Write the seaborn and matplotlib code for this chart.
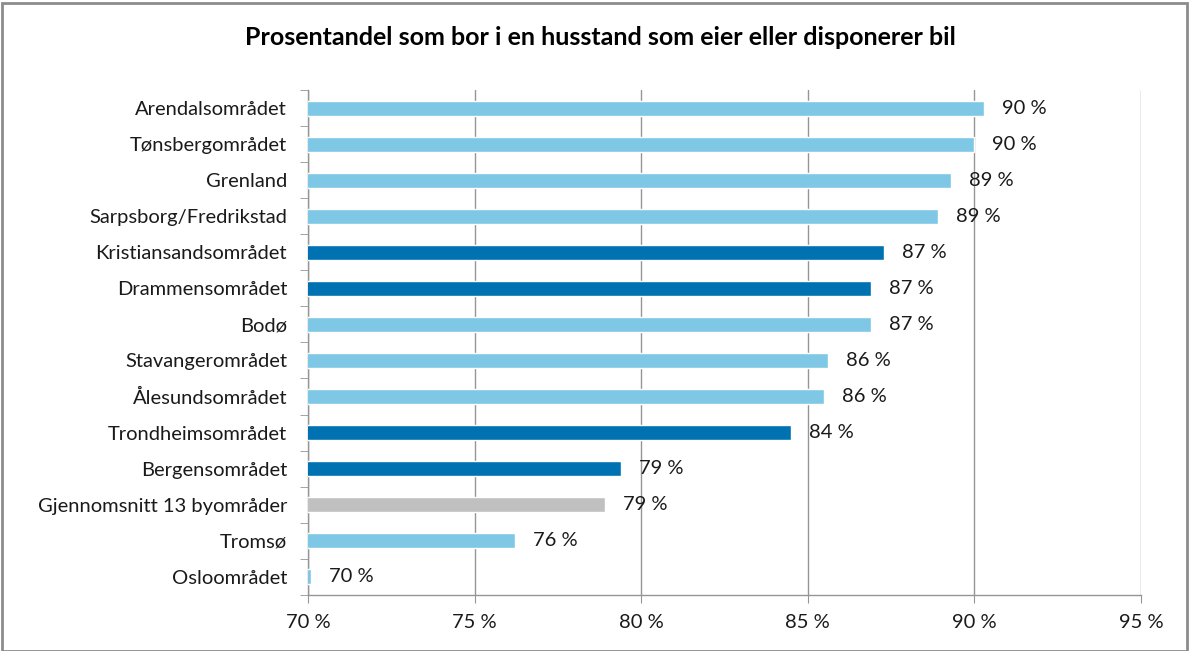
import matplotlib
matplotlib.use("Agg")
import numpy as np
import pandas as pd
import seaborn as sns
import matplotlib.pyplot as plt
from matplotlib.patches import Rectangle
from matplotlib.ticker import FuncFormatter

# data
areas = ["Arendalsområdet", "Tønsbergområdet", "Grenland", "Sarpsborg/Fredrikstad",
         "Kristiansandsområdet", "Drammensområdet", "Bodø", "Stavangerområdet",
         "Ålesundsområdet", "Trondheimsområdet", "Bergensområdet",
         "Gjennomsnitt 13 byområder", "Tromsø", "Osloområdet"]
share = [90.3, 90.0, 89.3, 88.9, 87.3, 86.9, 86.9, 85.6, 85.5, 84.5, 79.4, 78.9, 76.2, 70.1]
group = ["other", "other", "other", "other", "big", "big", "other", "other",
         "other", "big", "big", "avg", "other", "other"]

colors = {"other": "#7EC8E6", "big": "#0072B2", "avg": "#C0C0C0"}

df = pd.DataFrame({"area": areas, "share": share, "group": group})

sns.set_style("white")
plt.rcParams["font.family"] = ["Lato", "DejaVu Sans"]

fig = plt.figure(figsize=(11.89, 6.51), dpi=100)
ax = fig.add_axes([0.259, 0.0865, 0.7006, 0.775])

sns.barplot(data=df, x="share", y="area", hue="area",
            palette=[colors[g] for g in group], legend=False, saturation=1,
            width=0.42, ax=ax, zorder=3)

for cont, v in zip(ax.containers, share):
    ax.bar_label(cont, labels=[f"{round(v):d} %"], padding=13,
                 fontsize=14.5, color="#1a1a1a")

ax.set_xlim(70, 95)
ax.set_xticks(np.arange(70, 96, 5))
ax.xaxis.set_major_formatter(FuncFormatter(lambda v, p: f"{v:.0f} %"))
ax.grid(axis="x", color="#959595", linewidth=1, zorder=0)
ax.set_axisbelow(True)
ax.set_xlabel("")
ax.set_ylabel("")

for s in ["top", "right"]:
    ax.spines[s].set_visible(False)
for s in ["left", "bottom"]:
    ax.spines[s].set_color("#959595")
    ax.spines[s].set_linewidth(1)

ax.tick_params(axis="x", length=6, color="#959595", labelsize=14.5, pad=8,
               labelcolor="#1a1a1a", bottom=True)
ax.tick_params(axis="y", length=0, labelsize=14.5, pad=15, labelcolor="#1a1a1a")
# small Excel-style ticks between categories
ax.set_yticks(np.arange(-0.5, len(areas), 1), minor=True)
ax.tick_params(axis="y", which="minor", length=6, color="#959595", left=True)

fig.suptitle("Prosentandel som bor i en husstand som eier eller disponerer bil",
             x=0.505, y=0.96, fontsize=18, fontweight="bold", color="#000000")

fig.patches.append(Rectangle((0.002, 0.0), 0.996, 0.995, transform=fig.transFigure,
                             fill=False, edgecolor="#8c8c8c", linewidth=2))

fig.savefig("out.png", dpi=100)
